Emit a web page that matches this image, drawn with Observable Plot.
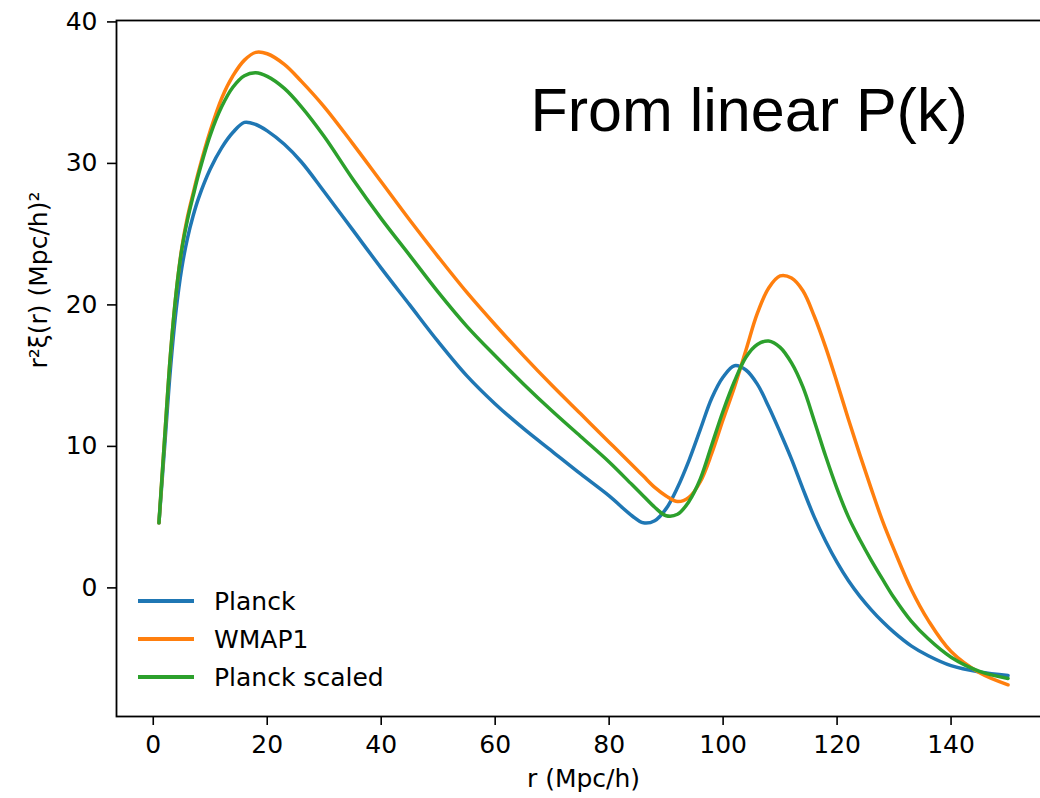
<!DOCTYPE html>
<html>
<head>
<meta charset="utf-8">
<script src="https://cdn.jsdelivr.net/npm/d3@7"></script>
<script src="https://cdn.jsdelivr.net/npm/@observablehq/plot@0.6"></script>
<style>
  html, body { margin: 0; padding: 0; background: #fff; overflow: hidden; width: 1040px; height: 798px; }
  #wrap { position: relative; width: 1040px; height: 798px; overflow: hidden; }
  #wrap svg { max-width: none !important; }
  #legend { position: absolute; left: 138px; top: 582px; font-family: "DejaVu Sans", sans-serif; font-size: 25px; color: #000; }
  .row { display: flex; align-items: center; height: 38px; }
  .sw { width: 56px; height: 3.5px; margin-right: 20px; }
</style>
</head>
<body>
<div id="wrap"></div>
<script>
// r (Mpc/h)
const rValues = [1,2,3,4,5,6,7,8,10,12,14,16,18,20,23,26,30,35,40,45,50,55,60,65,70,75,80,84,86,88,90,92,94,96,98,100,102,104,106,108,110,112,114,116,118,120,122,124,126,128,130,133,136,140,145,150];
// r^2 xi(r) for each cosmology
const planck = [4.6,10.0,15.4,19.6,22.6,24.7,26.3,27.6,29.6,31.1,32.2,32.9,32.75,32.3,31.35,30.1,28.0,25.3,22.6,20.0,17.4,15.0,13.0,11.25,9.65,8.05,6.5,5.1,4.6,4.75,5.6,7.1,9.0,11.2,13.4,14.9,15.7,15.4,14.4,12.8,11.0,9.1,7.0,5.0,3.3,1.8,0.5,-0.6,-1.55,-2.4,-3.15,-4.1,-4.8,-5.5,-5.95,-6.2];
const wmap1 = [4.6,10.6,16.4,20.8,24.0,26.2,27.9,29.5,32.3,34.6,36.2,37.3,37.85,37.75,37.0,35.8,34.0,31.4,28.7,26.0,23.4,20.9,18.6,16.4,14.3,12.3,10.3,8.7,7.9,7.1,6.5,6.1,6.4,7.5,9.5,11.9,14.2,16.8,19.4,21.2,22.05,21.9,21.0,19.2,17.0,14.5,11.9,9.4,7.0,4.7,2.7,-0.1,-2.3,-4.5,-6.0,-6.85];
const planckScaled = [4.6,10.6,16.4,20.8,23.9,26.0,27.7,29.3,32.0,34.0,35.4,36.2,36.4,36.15,35.3,34.0,31.9,28.9,26.1,23.5,20.9,18.5,16.4,14.4,12.5,10.7,8.9,7.3,6.5,5.7,5.1,5.2,6.1,7.7,10.1,12.5,14.6,16.3,17.2,17.45,17.0,15.9,14.2,11.8,9.3,7.0,5.0,3.4,1.95,0.6,-0.7,-2.35,-3.6,-4.9,-5.9,-6.4];

const seriesNames = ["Planck", "WMAP1", "Planck scaled"];
const seriesColors = ["#1f77b4", "#ff7f0e", "#2ca02c"];
const xTicks = [0, 20, 40, 60, 80, 100, 120, 140];
const yTicks = [0, 10, 20, 30, 40];
const xLabel = "r (Mpc/h)";
const yLabel = "r²ξ(r) (Mpc/h)²";
const title = "From linear P(k)";

const seriesValues = [planck, wmap1, planckScaled];
const data = [];
seriesNames.forEach((name, i) => {
  rValues.forEach((r, j) => data.push({ series: name, r, v: seriesValues[i][j] }));
});

const chart = Plot.plot({
  width: 1060,
  height: 798,
  marginLeft: 116,
  marginRight: 10,
  marginTop: 20,
  marginBottom: 82,
  style: { fontFamily: "DejaVu Sans, sans-serif", fontSize: "25px", color: "#000", background: "#fff", overflow: "visible", maxWidth: "none" },
  x: { domain: [-6.45, 157.45] },
  y: { domain: [-9.09, 40.1] },
  color: { domain: seriesNames, range: seriesColors },
  marks: [
    Plot.line(data, { x: "r", y: "v", z: "series", stroke: "series", strokeWidth: 3.5, curve: "catmull-rom" }),
    Plot.frame({ stroke: "#000", strokeWidth: 1.8 }),
    Plot.axisX({ ticks: xTicks, tickSize: 9, tickPadding: 10, strokeWidth: 1.6, label: null, fontSize: 25 }),
    Plot.axisY({ ticks: yTicks, tickSize: 9, tickPadding: 10, strokeWidth: 1.6, label: null, fontSize: 25 }),
    Plot.text([xLabel], { frameAnchor: "bottom", dy: 70, lineAnchor: "bottom", fontSize: 25 }),
    Plot.text([yLabel], { frameAnchor: "left", dx: -78, rotate: -90, lineAnchor: "middle", fontSize: 25 }),
    Plot.text([title], { frameAnchor: "top-left", dx: 414, dy: 67, lineAnchor: "top", textAnchor: "start", fontSize: 61, fontFamily: "Liberation Sans, Arial, sans-serif" })
  ]
});
document.getElementById("wrap").appendChild(chart);

const legend = document.createElement("div");
legend.id = "legend";
seriesNames.forEach((name, i) => {
  const row = document.createElement("div");
  row.className = "row";
  const sw = document.createElement("div");
  sw.className = "sw";
  sw.style.background = seriesColors[i];
  const lab = document.createElement("span");
  lab.textContent = name;
  row.appendChild(sw);
  row.appendChild(lab);
  legend.appendChild(row);
});
document.getElementById("wrap").appendChild(legend);
</script>
</body>
</html>
